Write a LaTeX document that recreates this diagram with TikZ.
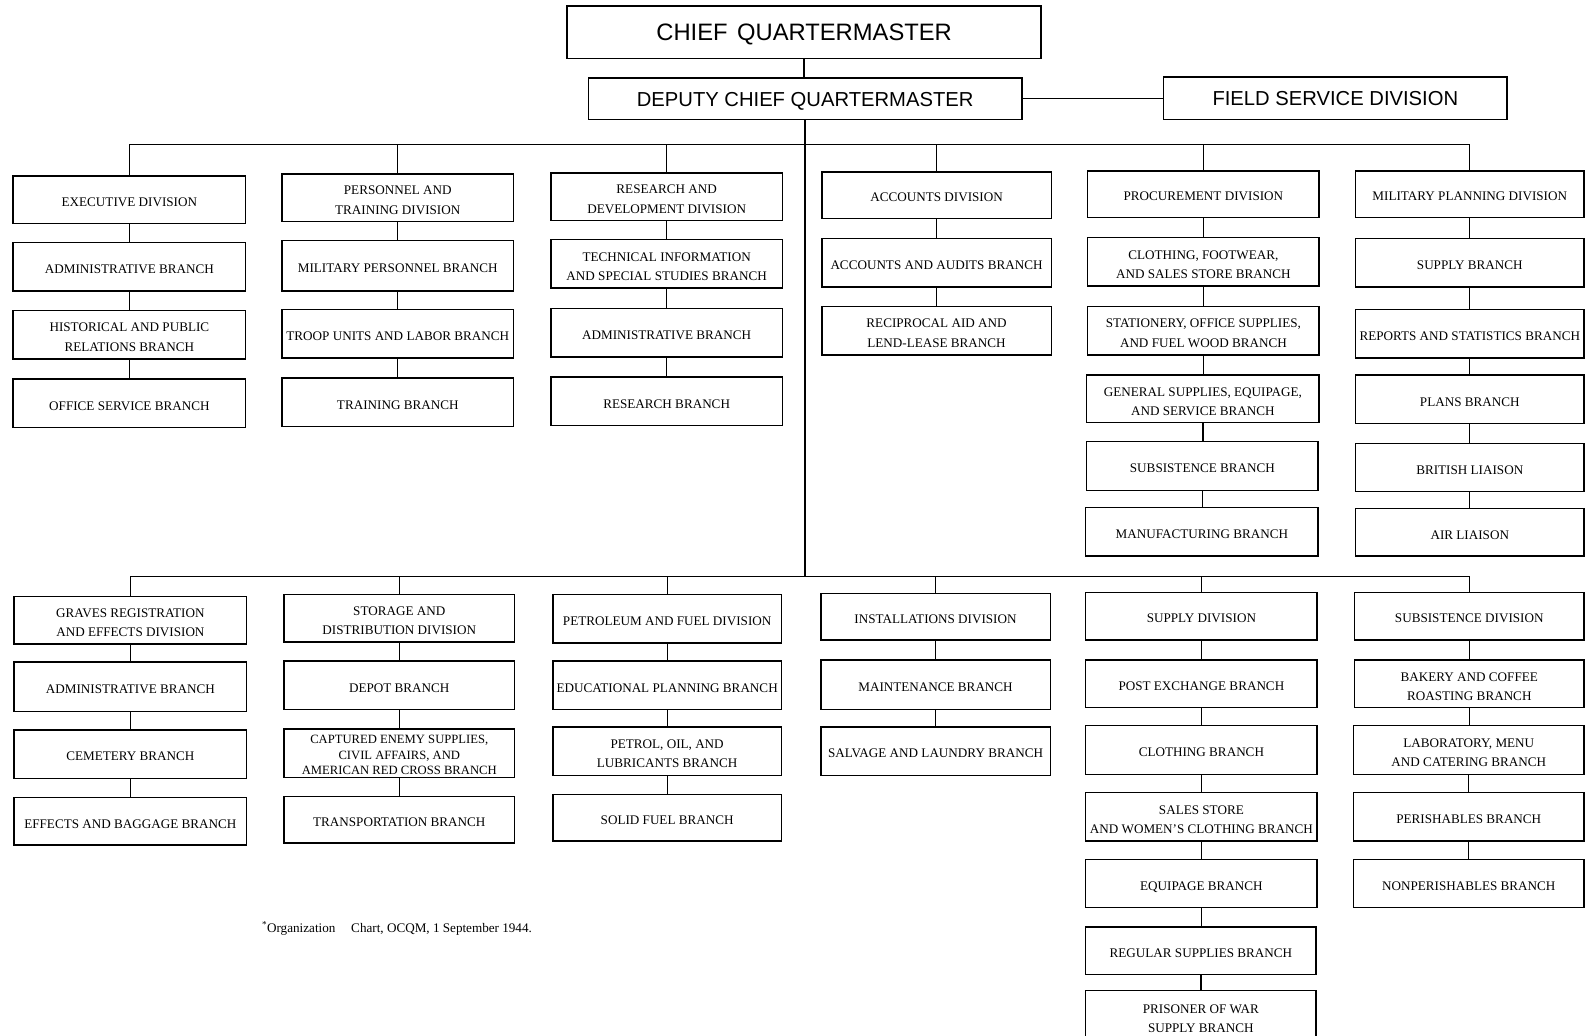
\documentclass[tikz,border=0pt]{standalone}
\usepackage{fontspec}
\setmainfont{Liberation Serif}
\newfontfamily\titlefont{Liberation Sans}

% A framed box given by its left, top, right and bottom edges (y grows downward);
% the label is set as a one-column tabular, lowered slightly inside the frame
\newcommand\orgbox[7][box]{%
  \pgfmathsetmacro\obw{#5-#3}\pgfmathsetmacro\obh{#6-#4}%
  \pgfmathsetmacro\obx{(#3+#5)/2}\pgfmathsetmacro\oby{(#4+#6)/2}%
  \node[#1,minimum width=\obw pt,minimum height=\obh pt] (#2) at (\obx,\oby)
    {\raisebox{-3pt}[\height][\depth]{\begin{tabular}{@{}c@{}}#7\end{tabular}}};}

\begin{document}
\begin{tikzpicture}[x=1pt,y=-1pt,
  box/.style={draw,rectangle,line width=1.4pt,inner sep=0pt,
    font=\fontsize{13}{19}\selectfont},
  tightbox/.style={box,font=\fontsize{12.5}{15}\selectfont},
  headbox/.style={draw,rectangle,line width=1.4pt,inner sep=0pt,
    font=\titlefont\fontsize{20}{24}\selectfont},
  chiefbox/.style={headbox,font=\titlefont\fontsize{23.5}{27}\selectfont},
  link/.style={line width=1.3pt}]
\useasboundingbox (0,0) rectangle (1568,1024);
\clip (0,0) rectangle (1568,1024);

% ---- headquarters ----
\orgbox[chiefbox]{chief}{561}{6}{1030}{58}{CHIEF\hspace{0.4em}QUARTERMASTER}
\orgbox[headbox]{deputy}{582}{77}{1011}{118}{DEPUTY CHIEF QUARTERMASTER}
\orgbox[headbox]{field}{1151}{76}{1491}{118}{FIELD SERVICE DIVISION}

% ---- upper row of divisions ----
\orgbox{exec}{13}{174}{243}{221}{EXECUTIVE DIVISION}
\orgbox{exadm}{13}{240}{243}{288}{ADMINISTRATIVE BRANCH}
\orgbox{exhist}{13}{307}{243}{355}{HISTORICAL AND PUBLIC\\RELATIONS BRANCH}
\orgbox{exoff}{13}{375}{243}{423}{OFFICE SERVICE BRANCH}

\orgbox{pers}{279}{172}{508}{219}{PERSONNEL AND\\TRAINING DIVISION}
\orgbox{pemil}{279}{238}{508}{288}{MILITARY PERSONNEL BRANCH}
\orgbox{petroop}{279}{306}{508}{354}{TROOP UNITS AND LABOR BRANCH}
\orgbox{petrain}{279}{374}{508}{422}{TRAINING BRANCH}

\orgbox{rnd}{545}{171}{774}{218}{RESEARCH AND\\DEVELOPMENT DIVISION}
\orgbox{rdtech}{545}{237}{774}{285}{TECHNICAL INFORMATION\\AND SPECIAL STUDIES BRANCH}
\orgbox{rdadm}{545}{305}{774}{353}{ADMINISTRATIVE BRANCH}
\orgbox{rdres}{545}{373}{774}{421}{RESEARCH BRANCH}

\orgbox{acct}{813}{170}{1040}{216}{ACCOUNTS DIVISION}
\orgbox{acaud}{813}{236}{1040}{284}{ACCOUNTS AND AUDITS BRANCH}
\orgbox{acrec}{813}{303}{1040}{351}{RECIPROCAL AID AND\\LEND-LEASE BRANCH}

\orgbox{proc}{1076}{169}{1305}{215}{PROCUREMENT DIVISION}
\orgbox{prclo}{1076}{235}{1305}{283}{CLOTHING, FOOTWEAR,\\AND SALES STORE BRANCH}
\orgbox{prsta}{1076}{303}{1305}{351}{STATIONERY, OFFICE SUPPLIES,\\AND FUEL WOOD BRANCH}
\orgbox{prgen}{1075}{371}{1305}{418}{GENERAL SUPPLIES, EQUIPAGE,\\AND SERVICE BRANCH}
\orgbox{prsub}{1075}{437}{1304}{485}{SUBSISTENCE BRANCH}
\orgbox{prman}{1074}{502}{1304}{550}{MANUFACTURING BRANCH}

\orgbox{mil}{1341}{169}{1567}{215}{MILITARY PLANNING DIVISION}
\orgbox{misup}{1341}{236}{1567}{284}{SUPPLY BRANCH}
\orgbox{mirep}{1341}{306}{1567}{354}{REPORTS AND STATISTICS BRANCH}
\orgbox{mipla}{1341}{371}{1567}{419}{PLANS BRANCH}
\orgbox{mibri}{1341}{439}{1567}{486}{BRITISH LIAISON}
\orgbox{miair}{1341}{503}{1567}{550}{AIR LIAISON}

% ---- lower row of divisions ----
\orgbox{graves}{14}{590}{244}{637}{GRAVES REGISTRATION\\AND EFFECTS DIVISION}
\orgbox{gradm}{14}{655}{244}{704}{ADMINISTRATIVE BRANCH}
\orgbox{grcem}{14}{722}{244}{770}{CEMETERY BRANCH}
\orgbox{greff}{14}{789}{244}{836}{EFFECTS AND BAGGAGE BRANCH}

\orgbox{stor}{281}{588}{509}{635}{STORAGE AND\\DISTRIBUTION DIVISION}
\orgbox{stdep}{281}{654}{509}{702}{DEPOT BRANCH}
\orgbox[tightbox]{stcap}{281}{721}{509}{769}{CAPTURED ENEMY SUPPLIES,\\CIVIL AFFAIRS, AND\\AMERICAN RED CROSS BRANCH}
\orgbox{sttra}{281}{788}{509}{834}{TRANSPORTATION BRANCH}

\orgbox{petr}{547}{588}{773}{636}{PETROLEUM AND FUEL DIVISION}
\orgbox{peedu}{547}{654}{773}{702}{EDUCATIONAL PLANNING BRANCH}
\orgbox{pepol}{547}{719}{773}{767}{PETROL, OIL, AND\\LUBRICANTS BRANCH}
\orgbox{pesol}{547}{786}{773}{832}{SOLID FUEL BRANCH}

\orgbox{inst}{812}{587}{1039}{633}{INSTALLATIONS DIVISION}
\orgbox{inmai}{812}{653}{1039}{702}{MAINTENANCE BRANCH}
\orgbox{insal}{812}{719}{1039}{767}{SALVAGE AND LAUNDRY BRANCH}

\orgbox{supd}{1074}{586}{1303}{633}{SUPPLY DIVISION}
\orgbox{supx}{1074}{653}{1303}{700}{POST EXCHANGE BRANCH}
\orgbox{suclo}{1074}{718}{1303}{766}{CLOTHING BRANCH}
\orgbox{susal}{1074}{784}{1303}{832}{SALES STORE\\AND WOMEN'S CLOTHING BRANCH}
\orgbox{suequ}{1074}{850}{1303}{898}{EQUIPAGE BRANCH}
\orgbox{sureg}{1074}{917}{1302}{964}{REGULAR SUPPLIES BRANCH}
\orgbox{supow}{1074}{980}{1302}{1030}{PRISONER OF WAR\\SUPPLY BRANCH}

\orgbox{subs}{1340}{586}{1567}{633}{SUBSISTENCE DIVISION}
\orgbox{sbbak}{1340}{653}{1567}{700}{BAKERY AND COFFEE\\ROASTING BRANCH}
\orgbox{sblab}{1339}{718}{1567}{766}{LABORATORY, MENU\\AND CATERING BRANCH}
\orgbox{sbper}{1339}{784}{1567}{832}{PERISHABLES BRANCH}
\orgbox{sbnon}{1339}{850}{1567}{898}{NONPERISHABLES BRANCH}

% ---- footnote ----
\node[anchor=base west,inner sep=0pt,font=\fontsize{13}{15}\selectfont] (note) at (259,922)
  {\textsuperscript{*}Organization\hspace{1.2em}Chart, OCQM, 1 September 1944.};

% ---- connectors ----
\coordinate (busU) at (0,143);
\coordinate (busL) at (0,570);
\draw[link] (chief.south) -- (chief.south |- deputy.north);
\draw[link] (deputy.east) -- (deputy.east -| field.west);
\draw[link] (deputy.south) -- (deputy.south |- busL);

\draw[link] (exec.north) |- (mil.north |- busU) -- (mil.north);
\foreach \n in {pers,rnd,acct,proc}
  \draw[link] (\n.north) -- (\n.north |- busU);
\draw[link] (graves.north) |- (subs.north |- busL) -- (subs.north);
\foreach \n in {stor,petr,inst,supd}
  \draw[link] (\n.north) -- (\n.north |- busL);

\foreach \a/\b in {exec/exadm,exadm/exhist,exhist/exoff,
    pers/pemil,pemil/petroop,petroop/petrain,
    rnd/rdtech,rdtech/rdadm,rdadm/rdres,
    acct/acaud,acaud/acrec,
    proc/prclo,prclo/prsta,prsta/prgen,prgen/prsub,prsub/prman,
    mil/misup,misup/mirep,mirep/mipla,mipla/mibri,mibri/miair,
    graves/gradm,gradm/grcem,grcem/greff,
    stor/stdep,stdep/stcap,stcap/sttra,
    petr/peedu,peedu/pepol,pepol/pesol,
    inst/inmai,inmai/insal,
    supd/supx,supx/suclo,suclo/susal,susal/suequ,suequ/sureg,sureg/supow,
    subs/sbbak,sbbak/sblab,sblab/sbper,sbper/sbnon}
  \draw[link] (\a.south) -- (\a.south |- \b.north);
\end{tikzpicture}
\end{document}
